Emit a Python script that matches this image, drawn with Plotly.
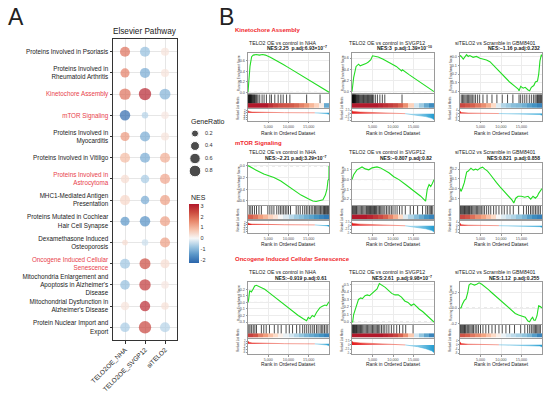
import math
import plotly.graph_objects as go

W, H = 550, 395
FONT = "Liberation Sans, Arial, Helvetica, sans-serif"
RED_LABEL = "#E8414B"
RED_TITLE = "#F0282D"

# ---------------- Panel A data ----------------
PATHWAYS = [
    "Proteins Involved in Psoriasis",
    "Proteins Involved in<br>Rheumatoid Arthritis",
    "Kinetochore Assembly",
    "mTOR Signaling",
    "Proteins Involved in<br>Myocarditis",
    "Proteins Involved in Vitiligo",
    "Proteins Involved in<br>Astrocytoma",
    "MHC1-Mediated Antigen<br>Presentation",
    "Proteins Mutated in Cochlear<br>Hair Cell Synapse",
    "Dexamethasone Induced<br>Osteoporosis",
    "Oncogene Induced Cellular<br>Senescence",
    "Mitochondria Enlargement and<br>Apoptosis in Alzheimer's<br>Disease",
    "Mitochondrial Dysfunction in<br>Alzheimer's Disease",
    "Protein Nuclear Import and<br>Export",
]
HIGHLIGHTED = [False, False, True, True, False, False, True, False, False, False, True, False, False, False]
GROUPS = ["TELO2OE_NHA", "TELO2OE_SVGP12", "siTELO2"]

NES_NHA = [1.9, 1.7, 1.9, -2.2, 1.4, 0.9, 0.4, 0.5, -1.5, 0.4, -0.8, -0.9, 0.3, -0.7]
NES_SVGP12 = [-0.9, -1.2, 3.0, -0.6, -1.2, -1.2, -0.7, -1.2, -1.6, -0.4, 2.4, 2.7, 2.9, 2.5]
NES_SI = [0.3, 0.3, -1.1, 0.25, 0.3, 1.1, 1.2, 1.3, 1.3, 1.3, 0.4, 0.25, 0.35, -0.6]

GR_NHA = [0.55, 0.42, 0.75, 0.60, 0.42, 0.55, 0.35, 0.55, 0.42, 0.10, 0.55, 0.48, 0.35, 0.48]
GR_SVGP12 = [0.55, 0.55, 0.92, 0.16, 0.55, 0.55, 0.35, 0.35, 0.60, 0.16, 0.68, 0.75, 0.60, 0.92]
GR_SI = [0.30, 0.30, 0.68, 0.25, 0.30, 0.55, 0.55, 0.55, 0.55, 0.55, 0.42, 0.25, 0.25, 0.55]

LEGEND_RATIOS = [0.2, 0.4, 0.6, 0.8]
NES_TICKS = [-2, -1, 0, 1, 2, 3]
NES_MIN, NES_MAX = -2.28, 3.16

# ---------------- Panel B data ----------------
ES_RANK_00 = [0, 200, 500, 900, 1300, 2000, 2800, 3600, 4300, 5500, 7000, 8500, 10000, 11500, 13000, 14500, 16000, 17000, 18000, 19000, 20000]
ES_00 = [0, 0.2, 0.5, 0.68, 0.71, 0.72, 0.71, 0.72, 0.71, 0.67, 0.61, 0.54, 0.47, 0.40, 0.33, 0.26, 0.19, 0.14, 0.10, 0.05, 0.0]
ES_RANK_01 = [0, 400, 1000, 1600, 2000, 2800, 3400, 4000, 4400, 4600, 5000, 5600, 6400, 7600, 9200, 10800, 12100, 12300, 14000, 16000, 18000, 20000]
ES_01 = [0, 0.25, 0.45, 0.49, 0.46, 0.48, 0.50, 0.53, 0.56, 0.57, 0.64, 0.63, 0.62, 0.58, 0.52, 0.45, 0.37, 0.39, 0.30, 0.20, 0.10, 0.0]
ES_RANK_02 = [0, 150, 800, 1600, 2000, 2400, 3200, 4000, 4850, 5650, 6450, 7300, 8500, 9700, 10900, 12100, 13400, 14200, 14400, 14800, 15400, 15900, 16600, 17000, 17400, 18000, 18400, 18900, 19200, 19500, 19850, 20000]
ES_02 = [0, 0.01, -0.03, 0.02, 0.0, 0.01, -0.01, 0.0, -0.02, -0.03, -0.04, -0.06, -0.12, -0.18, -0.24, -0.29, -0.34, -0.37, -0.39, -0.34, -0.36, -0.35, -0.38, -0.39, -0.35, -0.33, -0.29, -0.28, -0.20, -0.05, 0.02, 0.0]
ES_RANK_10 = [0, 160, 1400, 2650, 3900, 5150, 6400, 8100, 9750, 11400, 13100, 14750, 16000, 16800, 17650, 18500, 19100, 19500, 19750, 19980, 20000]
ES_10 = [0, 0.0, -0.05, -0.10, -0.14, -0.17, -0.20, -0.26, -0.34, -0.42, -0.50, -0.56, -0.60, -0.61, -0.60, -0.58, -0.50, -0.40, -0.25, -0.22, 0.0]
ES_RANK_11 = [0, 400, 1200, 2050, 2450, 3250, 4100, 4900, 6100, 6950, 7750, 9000, 10200, 11450, 13050, 14700, 15900, 16750, 17950, 18350, 18800, 19200, 19600, 20000]
ES_11 = [0, 0.05, 0.10, 0.12, 0.13, 0.11, 0.10, 0.12, 0.13, 0.12, 0.10, 0.07, 0.03, 0.0, -0.05, -0.10, -0.14, -0.17, -0.22, -0.10, -0.05, -0.07, -0.04, 0.0]
ES_RANK_12 = [0, 240, 570, 1050, 1620, 2020, 2670, 3240, 3810, 4290, 4860, 5510, 6070, 6720, 7290, 8100, 8910, 9720, 10530, 11340, 12150, 12710, 13120, 13600, 14170, 14980, 15790, 16600, 17250, 17810, 18380, 18870, 19190, 19510, 20000]
ES_12 = [0, -0.03, 0.0, 0.06, 0.17, 0.18, 0.21, 0.19, 0.20, 0.19, 0.21, 0.22, 0.20, 0.18, 0.15, 0.10, 0.06, 0.02, -0.02, -0.06, -0.09, -0.12, -0.15, -0.10, -0.08, -0.08, -0.09, -0.08, -0.11, -0.08, -0.10, -0.08, -0.05, -0.03, 0.0]
ES_RANK_20 = [0, 170, 410, 830, 1240, 1650, 2070, 2480, 3310, 4130, 4960, 5790, 6610, 7440, 8260, 9090, 9920, 10740, 11570, 12400, 13640, 14460, 14880, 15290, 15870, 16360, 16940, 17360, 17770, 18350, 19010, 19420, 19830, 20000]
ES_20 = [0, 0.05, 0.18, 0.16, 0.20, 0.25, 0.26, 0.25, 0.23, 0.20, 0.16, 0.12, 0.08, 0.04, 0.0, -0.05, -0.09, -0.13, -0.17, -0.20, -0.25, -0.28, -0.23, -0.25, -0.20, -0.22, -0.15, -0.12, -0.08, -0.06, -0.04, -0.05, 0.0, 0.01]
ES_RANK_21 = [0, 160, 400, 950, 1590, 2140, 2540, 3170, 3730, 4290, 4920, 5560, 6110, 6670, 7300, 8100, 8890, 9680, 10480, 11270, 12060, 12860, 13650, 14440, 15080, 15630, 16430, 17220, 18020, 18810, 19600, 20000]
ES_21 = [0, 0.0, 0.1, 0.2, 0.3, 0.32, 0.31, 0.35, 0.36, 0.35, 0.38, 0.42, 0.44, 0.51, 0.49, 0.46, 0.42, 0.38, 0.36, 0.36, 0.33, 0.28, 0.26, 0.22, 0.24, 0.21, 0.17, 0.14, 0.10, 0.07, 0.03, 0.0]
ES_RANK_22 = [0, 240, 570, 1060, 1470, 1880, 2200, 2610, 3020, 3510, 4080, 4650, 5310, 6120, 6940, 7760, 8570, 9390, 10200, 11020, 11840, 12650, 13470, 14290, 15100, 15920, 16570, 16980, 17390, 17710, 18040, 18370, 18780, 19180, 19590, 20000]
ES_22 = [0, 0.0, 0.05, 0.10, 0.12, 0.20, 0.30, 0.32, 0.31, 0.30, 0.31, 0.33, 0.31, 0.28, 0.24, 0.20, 0.16, 0.12, 0.08, 0.04, 0.0, -0.04, -0.07, -0.09, -0.10, -0.12, -0.17, -0.18, -0.14, -0.12, -0.16, -0.16, -0.10, 0.03, 0.02, 0.0]

HITS_00 = [60, 150, 250, 350, 450, 550, 650, 750, 850, 1000, 1150, 1300, 1450, 1600, 1800, 2000, 2200, 2480, 2900, 3480, 3970, 4550, 5380, 5790, 6620, 7450, 8110, 8690, 9520, 10340, 14480, 17790]
HITS_01 = [40, 120, 200, 280, 360, 440, 520, 600, 700, 800, 900, 1000, 1150, 1300, 1450, 1600, 1800, 2000, 2200, 2400, 2600, 2800, 3000, 3200, 3400, 3600, 3800, 4000, 4200, 4400, 4600, 4800, 5000, 5300, 5700, 6200, 6800, 7400, 8000, 12200]
HITS_02 = [300, 600, 900, 1200, 1500, 1800, 2100, 2400, 2700, 3000, 3400, 3800, 4300, 4800, 5600, 6600, 7800, 9000, 10300, 11600, 12900, 14400, 14800, 15300, 15800, 16300, 16900, 17400, 17900, 18300, 18600, 18900, 19100, 19300, 19500, 19700, 19850]
HITS_10 = [300, 700, 1100, 1600, 2100, 2700, 3300, 4900, 5400, 5900, 6400, 7100, 7600, 8000, 8400, 8800, 9200, 9600, 10000, 10500, 11900, 12400, 12900, 13500, 14000, 14400, 14800, 15200, 15600, 16000, 16400, 16700, 17000, 17300, 17600, 17900, 18200, 18500, 18700, 18900, 19100, 19300, 19500, 19700, 19850]
HITS_11 = [100, 300, 500, 700, 900, 1100, 1400, 1700, 2000, 2300, 2600, 2900, 3200, 3500, 3700, 3900, 4100, 4300, 4500, 4700, 4900, 5100, 5300, 5500, 5700, 5900, 6100, 6400, 6700, 7000, 7300, 7600, 8000, 8400, 8800, 9200, 9600, 10000, 10500, 11000, 11600, 12200, 13000, 14200, 15000, 16000, 17200, 18000, 18400, 18800, 19100, 19400, 19700]
HITS_12 = [100, 300, 500, 700, 900, 1100, 1300, 1500, 1700, 1900, 2100, 2300, 2500, 2800, 3100, 3400, 3700, 4000, 4300, 4600, 4900, 5200, 5600, 6000, 6500, 7000, 7500, 8200, 8800, 9500, 10200, 10800, 11500, 12200, 13000, 14300, 15500, 16200, 16700, 17200, 17600, 18000, 18400, 18800, 19200, 19600]
HITS_20 = [200, 500, 900, 1300, 1700, 2100, 3300, 3900, 4500, 5300, 6500, 7400, 8200, 9400, 10200, 11000, 12000, 12800, 13500, 14000, 14500, 15000, 15500, 16000, 16400, 16900, 17300, 17800, 18200, 18500, 18900, 19300, 19700]
HITS_21 = [50, 200, 350, 500, 650, 800, 950, 1100, 1300, 1500, 1700, 1900, 2100, 2300, 2600, 2900, 3200, 3500, 3800, 4100, 4400, 4700, 5000, 5300, 5600, 5900, 6200, 6500, 6800, 7200, 7600, 8000, 8500, 9000, 9600, 10200, 10900, 11600, 12400, 13100, 14900]
HITS_22 = [100, 300, 500, 700, 900, 1100, 1300, 1500, 1800, 2100, 2400, 2700, 3000, 3300, 3700, 4100, 4500, 5000, 5600, 6300, 7000, 7800, 8600, 9500, 10300, 11200, 12100, 13300, 14800, 15800, 16500, 17000, 17400, 17800, 18100, 18400, 18700, 19000, 19300, 19600]

STRIP_00 = [3, 3, 3, 3, 2.6, 2.3, 2.1, 2.0, 1.9, 1.7, 1.4, 1.1, 0.7, 0.4, 0.1, -1.4]
STRIP_01 = [3, 3, 3, 3, 3, 2.8, 2.6, 2.4, 2.2, 1.8, 1.2, 0.4, -0.3, -0.8, -1.4, -2.0]
STRIP_02 = [2.2, 2.0, 1.8, 1.5, 1.2, 0.8, 0.3, -0.2, -0.6, -0.8, -1.0, -1.1, -1.3, -1.6, -1.8, -2.2]
STRIP_10 = [1.8, 1.5, 1.0, 0.7, 0.4, 0.2, 0.0, -0.2, -0.5, -0.8, -1.0, -1.3, -1.5, -1.8, -2.2, -2.5]
STRIP_11 = [3, 3, 3, 2.8, 2.5, 2.2, 1.8, 1.3, 0.8, 0.3, -0.2, -0.6, -1.0, -1.4, -1.8, -2.2]
STRIP_12 = [2.2, 2.0, 1.6, 1.2, 0.9, 0.6, 0.3, 0.0, -0.2, -0.4, -0.6, -0.9, -1.2, -1.6, -2.0, -2.3]
STRIP_20 = [2.3, 2.0, 1.4, 1.0, 0.6, 0.3, 0.1, -0.1, -0.3, -0.6, -0.9, -1.2, -1.4, -1.6, -1.8, -2.2]
STRIP_21 = [3, 3, 3, 3, 3, 3, 2.8, 2.6, 2.3, 1.8, 1.2, 0.5, -0.3, -0.9, -1.5, -2.2]
STRIP_22 = [2.0, 1.8, 1.5, 1.2, 0.9, 0.6, 0.3, 0.1, -0.1, -0.3, -0.5, -0.7, -0.9, -1.2, -1.6, -2.2]

MET_RANK_NHA = [0, 200, 1000, 4000, 9000, 14000, 16500, 18500, 19500, 20000]
MET_NHA = [2.2, 1.2, 0.7, 0.35, 0.15, 0.05, 0.0, -0.35, -0.8, -1.4]
MET_RANK_SVGP12 = [0, 300, 2000, 6000, 10000, 13000, 16000, 18000, 19500, 20000]
MET_SVGP12 = [2.2, 1.6, 1.2, 0.7, 0.3, 0.0, -1.0, -2.2, -3.5, -4.6]
MET_RANK_GBM = [0, 300, 2000, 6000, 9500, 14000, 18000, 19500, 20000]
MET_GBM = [3.0, 1.2, 0.6, 0.25, 0.0, -0.3, -0.7, -1.2, -2.0]

N_GENES = 20000
RANK_TICKS = [5000, 10000, 15000]

SECTION_TITLES = ["Kinetochore Assembly", "mTOR Signaling", "Oncogene Induced Cellular Senescence"]
COMPARISONS = ["TELO2 OE vs control in NHA", "TELO2 OE vs control in SVGP12", "siTELO2 vs Scramble in GBM8401"]
NBSP = "\u00a0"
STATS = [
    ["NES:2.25" + NBSP * 2 + "p.adj:6.93×10<sup>−7</sup>", "NES:3" + NBSP * 2 + "p.adj:1.39×10<sup>−10</sup>", "NES:−1.16" + NBSP + "p.adj:0.232"],
    ["NES:−2.21" + NBSP + "p.adj:3.29×10<sup>−7</sup>", "NES:−0.807" + NBSP + "p.adj:0.82", "NES:0.821" + NBSP * 2 + "p.adj:0.858"],
    ["NES:−0.919" + NBSP + "p.adj:0.61", "NES:2.61" + NBSP * 2 + "p.adj:9.98×10<sup>−7</sup>", "NES:1.12" + NBSP * 2 + "p.adj:0.255"],
]
ES_YTICKS = [
    [[0, 0.2, 0.4, 0.6], [0, 0.2, 0.4, 0.6], [-0.4, -0.3, -0.2, -0.1, 0.0]],
    [[-0.6, -0.4, -0.2, 0.0], [-0.2, -0.1, 0.0, 0.1], [-0.1, 0.0, 0.1, 0.2]],
    [[-0.3, -0.2, -0.1, 0.0, 0.1, 0.2], [0.0, 0.1, 0.2, 0.3, 0.4, 0.5], [-0.2, 0.0, 0.2]],
]
ES_YRANGE = [
    [[-0.02, 0.75], [-0.03, 0.69], [-0.418, 0.039]],
    [[-0.67, 0.045], [-0.26, 0.167], [-0.17, 0.26]],
    [[-0.335, 0.316], [-0.03, 0.535], [-0.212, 0.344]],
]
MET_YTICKS = [[2, 0, -2, -4, -6], [2.5, 0, -2.5, -5], [4, 0, -4, -8]]
MET_YRANGE = [[-7.5, 3.5], [-5.5, 3.5], [-9, 5.5]]

ES_DATA = [
    [(ES_RANK_00, ES_00), (ES_RANK_01, ES_01), (ES_RANK_02, ES_02)],
    [(ES_RANK_10, ES_10), (ES_RANK_11, ES_11), (ES_RANK_12, ES_12)],
    [(ES_RANK_20, ES_20), (ES_RANK_21, ES_21), (ES_RANK_22, ES_22)],
]
HITS = [[HITS_00, HITS_01, HITS_02], [HITS_10, HITS_11, HITS_12], [HITS_20, HITS_21, HITS_22]]
STRIPS = [[STRIP_00, STRIP_01, STRIP_02], [STRIP_10, STRIP_11, STRIP_12], [STRIP_20, STRIP_21, STRIP_22]]
METRICS = [(MET_RANK_NHA, MET_NHA), (MET_RANK_SVGP12, MET_SVGP12), (MET_RANK_GBM, MET_GBM)]

# ---------------- layout geometry (pixels) ----------------
COL_X = [(248, 329), (352, 434), (460, 542)]
ROWS = [
    dict(sup=30, t1=43, t2=48.5, es=(53, 93.3), bc=(94.3, 107.7), met=(109, 121), xt=133.7),
    dict(sup=143, t1=152.3, t2=158.3, es=(163.3, 205), bc=(205.7, 219), met=(221, 233.3), xt=244.3),
    dict(sup=259, t1=272.3, t2=277.7, es=(281.7, 324.3), bc=(325, 337.7), met=(339, 354.3), xt=364.3),
]

fig = go.Figure()
layout = {}
annotations = []
shapes = []
axis_n = [0]


def add_axes(x0, x1, y0, y1, xa, ya):
    axis_n[0] += 1
    n = axis_n[0]
    s = "" if n == 1 else str(n)
    layout["xaxis" + s] = dict(xa, domain=[x0 / W, x1 / W], anchor="y" + s, automargin=False)
    layout["yaxis" + s] = dict(ya, domain=[1 - y1 / H, 1 - y0 / H], anchor="x" + s, automargin=False)
    return "x" + s, "y" + s


def ann(text, x, y, size, color="#1A1A1A", xanchor="center", yanchor="middle", angle=0):
    annotations.append(dict(text=text, x=x / W, y=1 - y / H, xref="paper", yref="paper",
                            xanchor=xanchor, yanchor=yanchor, showarrow=False, textangle=angle,
                            font=dict(size=size, color=color, family=FONT)))


def dot_size(r):
    return 2.3 + 10.5 * math.sqrt(r)


def red_wrap(t):
    return "<br>".join('<span style="color:%s">%s</span>' % (RED_LABEL, p) for p in t.split("<br>"))


# ---------------- Panel A ----------------
ticktext = [red_wrap(t) if h else t for t, h in zip(PATHWAYS, HIGHLIGHTED)]
grid = dict(showgrid=True, gridcolor="#E6E6E6", gridwidth=0.6, zeroline=False, showline=True, mirror=True,
            linecolor="#333333", linewidth=1, ticks="outside", ticklen=2.5, tickwidth=0.6, tickcolor="#333333")
xA, yA = add_axes(113, 177, 39, 340,
                  dict(grid, range=[-0.6, 2.6], tickvals=[0, 1, 2], ticktext=GROUPS, tickangle=-45,
                       tickfont=dict(size=6.5, color="#1A1A1A", family=FONT)),
                  dict(grid, range=[13.6, -0.6], tickvals=list(range(len(PATHWAYS))), ticktext=ticktext,
                       tickfont=dict(size=6.3, color="#1A1A1A", family=FONT)))

NES_SCALE = [[0.0, "#2A65AB"], [0.143, "#5A96C8"], [0.272, "#9CC5E1"], [0.419, "#F7F7F7"],
             [0.566, "#F6C1AA"], [0.713, "#E8866A"], [0.860, "#CB4A3F"], [1.0, "#B2182B"]]

xs, ys, cs, ss = [], [], [], []
for j, (nes_col, gr_col) in enumerate([(NES_NHA, GR_NHA), (NES_SVGP12, GR_SVGP12), (NES_SI, GR_SI)]):
    for i in range(len(PATHWAYS)):
        xs.append(j)
        ys.append(i)
        cs.append(nes_col[i])
        ss.append(dot_size(gr_col[i]))

fig.add_trace(go.Scatter(
    x=xs, y=ys, mode="markers", xaxis=xA, yaxis=yA, hoverinfo="skip",
    marker=dict(size=ss, color=cs, cmin=NES_MIN, cmax=NES_MAX, colorscale=NES_SCALE, line=dict(width=0),
                showscale=True,
                colorbar=dict(x=189 / W, xanchor="left", y=1 - 204 / H, yanchor="top", len=59, lenmode="pixels",
                              thickness=10, thicknessmode="pixels", outlinewidth=0, xpad=0, ypad=0,
                              tickvals=NES_TICKS, ticktext=[str(v) for v in NES_TICKS], ticks="",
                              tickfont=dict(size=5.5, color="#333333", family=FONT)))))

ann("Elsevier Pathway", 145, 32, 8.2)
ann("GeneRatio", 189, 121, 7, xanchor="left")
ann("NES", 189, 197, 7, xanchor="left")
ann("A", 6, 17, 23, color="#222222", xanchor="left")
ann("B", 217, 17, 23, color="#222222", xanchor="left")

xL, yL = add_axes(185, 225, 128, 178, dict(range=[-1, 3], visible=False), dict(range=[0.912, 0.112], visible=False))
fig.add_trace(go.Scatter(x=[0] * len(LEGEND_RATIOS), y=LEGEND_RATIOS, mode="markers", xaxis=xL, yaxis=yL,
                         hoverinfo="skip", marker=dict(size=[dot_size(r) for r in LEGEND_RATIOS], color="black")))
fig.add_trace(go.Scatter(x=[1] * len(LEGEND_RATIOS), y=LEGEND_RATIOS, mode="text", xaxis=xL, yaxis=yL,
                         hoverinfo="skip", text=["%.1f" % r for r in LEGEND_RATIOS], textposition="middle right",
                         textfont=dict(size=5.5, color="#333333", family=FONT)))

# ---------------- Panel B ----------------
STRIP_SCALE = [[0.0, "#2166AC"], [0.2, "#4393C3"], [0.35, "#92C5DE"], [0.45, "#D1E5F0"], [0.5, "#F7F7F7"],
               [0.55, "#FDDBC7"], [0.65, "#F4A582"], [0.8, "#D6604D"], [1.0, "#B2182B"]]
BORDER = "#9A9A9A"
panel = dict(showline=True, mirror=True, linecolor=BORDER, linewidth=0.6, zeroline=False)
STRIP_FRAC = 0.34

for r, row in enumerate(ROWS):
    ann("<b>%s</b>" % SECTION_TITLES[r], 233, row["sup"], 6, color=RED_TITLE, xanchor="left")
    for c, (bx0, bx1) in enumerate(COL_X):
        ann(COMPARISONS[c], (bx0 - 12 + bx1) / 2, row["t1"], 5.2)
        ann("<b>%s</b>" % STATS[r][c], bx1, row["t2"], 5, xanchor="right")
        ann("Running Enrichment Score", bx0 - 9, (row["es"][0] + row["es"][1]) / 2, 3.0, color="#333333", angle=-90)
        ann("Ranked List Metric", bx0 - 10, (row["bc"][0] + row["met"][1]) / 2, 2.8, color="#333333", angle=-90)
        ann("Rank in Ordered Dataset", (bx0 + bx1) / 2, row["xt"], 4.9)

        yt = ES_YTICKS[r][c]
        xe, ye = add_axes(bx0, bx1, row["es"][0], row["es"][1],
                          dict(panel, range=[0, N_GENES], tickvals=RANK_TICKS, showticklabels=False, ticks="",
                               showgrid=True, gridcolor="#ECECEC", gridwidth=0.5),
                          dict(panel, range=ES_YRANGE[r][c], tickvals=yt, ticktext=["%.1f" % v for v in yt],
                               ticks="outside", ticklen=1.5, tickwidth=0.5, tickcolor=BORDER,
                               tickfont=dict(size=3.8, color="#4D4D4D", family=FONT),
                               showgrid=True, gridcolor="#ECECEC", gridwidth=0.5))
        shapes.append(dict(type="line", xref=xe + " domain", x0=0, x1=1, yref=ye, y0=0, y1=0,
                           line=dict(color="#A0A0A0", width=0.5, dash="dot"), layer="below"))
        rk, es = ES_DATA[r][c]
        fig.add_trace(go.Scatter(x=rk, y=es, mode="lines", xaxis=xe, yaxis=ye, hoverinfo="skip",
                                 line=dict(color="#22DD22", width=1.1)))

        xb, yb = add_axes(bx0, bx1, row["bc"][0], row["bc"][1],
                          dict(panel, range=[0, N_GENES], showticklabels=False, ticks="", showgrid=False),
                          dict(panel, range=[0, 1], showticklabels=False, ticks="", showgrid=False))
        strip = STRIPS[r][c]
        edges = [N_GENES * k / len(strip) for k in range(len(strip) + 1)]
        fig.add_trace(go.Heatmap(z=[strip], x=edges, y=[0, STRIP_FRAC], xaxis=xb, yaxis=yb, zmin=-3, zmax=3,
                                 colorscale=STRIP_SCALE, showscale=False, hoverinfo="skip"))
        hx, hy = [], []
        for h in HITS[r][c]:
            hx += [h, h, None]
            hy += [STRIP_FRAC, 1, None]
        fig.add_trace(go.Scatter(x=hx, y=hy, mode="lines", xaxis=xb, yaxis=yb, hoverinfo="skip",
                                 line=dict(color="black", width=0.7)))

        mt = MET_YTICKS[c]
        xm, ym = add_axes(bx0, bx1, row["met"][0], row["met"][1],
                          dict(panel, range=[0, N_GENES], tickvals=RANK_TICKS,
                               ticktext=["{:,}".format(v) for v in RANK_TICKS], ticks="outside", ticklen=1.5,
                               tickwidth=0.5, tickcolor=BORDER, tickfont=dict(size=3.7, color="#4D4D4D", family=FONT),
                               showgrid=True, gridcolor="#ECECEC", gridwidth=0.5),
                          dict(panel, range=MET_YRANGE[c], tickvals=mt, ticktext=[("%g" % v) for v in mt],
                               ticks="outside", ticklen=1.2, tickwidth=0.5, tickcolor=BORDER,
                               tickfont=dict(size=2.8, color="#4D4D4D", family=FONT), showgrid=False))
        mr, mv = METRICS[c]
        iz = next(k for k, v in enumerate(mv) if v <= 0)
        fig.add_trace(go.Scatter(x=mr[:iz + 1], y=mv[:iz + 1], mode="lines", fill="tozeroy", xaxis=xm, yaxis=ym,
                                 hoverinfo="skip", line=dict(color="#E8412C", width=0.5),
                                 fillgradient=dict(type="horizontal",
                                                   colorscale=[[0, "#E41A1C"], [1, "#FDEDEA"]])))
        fig.add_trace(go.Scatter(x=mr[iz:], y=mv[iz:], mode="lines", fill="tozeroy", xaxis=xm, yaxis=ym,
                                 hoverinfo="skip", line=dict(color="#3FAEDB", width=0.5),
                                 fillgradient=dict(type="horizontal",
                                                   colorscale=[[0, "#EAF6FB"], [1, "#1F9BD1"]])))

fig.update_layout(
    width=W, height=H, autosize=False,
    margin=dict(l=0, r=0, t=0, b=0, pad=0, autoexpand=False),
    paper_bgcolor="white", plot_bgcolor="white", showlegend=False,
    font=dict(family=FONT, color="#1A1A1A"),
    annotations=annotations, shapes=shapes, **layout)

fig.write_html("out.html", config=dict(responsive=False, displayModeBar=False),
               post_script="document.body.style.margin='0px';document.body.style.padding='0px';")
